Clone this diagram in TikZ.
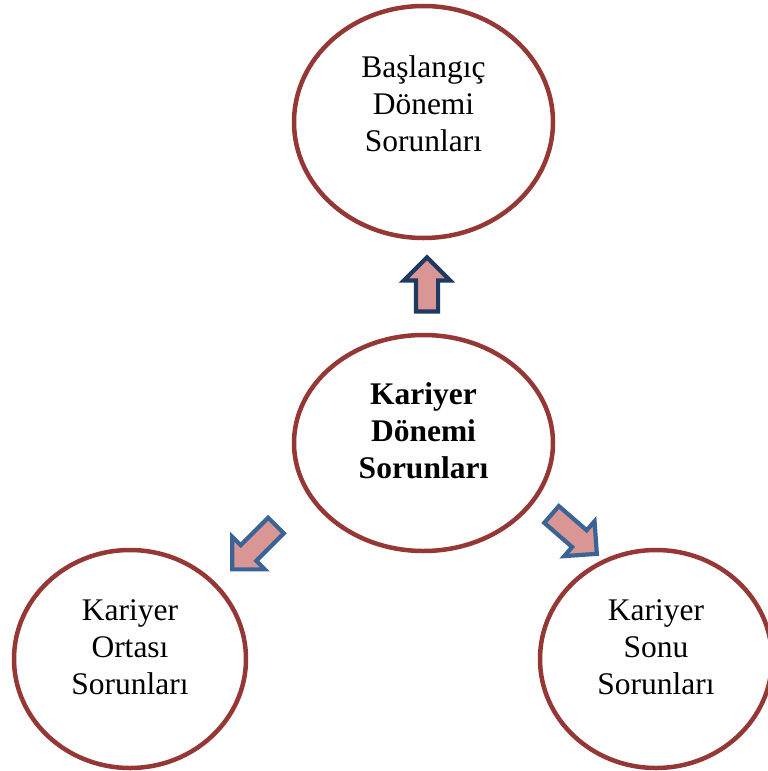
\documentclass[tikz,border=0pt]{standalone}
\usepackage{fontspec}
\setmainfont{Liberation Serif}
\usetikzlibrary{shapes.geometric,shapes.arrows}
\definecolor{Rim}{HTML}{953735}
\definecolor{Rose}{HTML}{D99694}
\definecolor{Navy}{HTML}{1F3A60}
\definecolor{Steel}{HTML}{3B6496}
\newcommand\bubblefont{\fontsize{31.5}{37}\selectfont}

\begin{document}
\begin{tikzpicture}[
  x=1pt,
  y=-1pt,
  bubble/.style={ellipse,draw=Rim,line width=4.5pt,inner sep=0pt},
  words/.style={align=center,font=\bubblefont},
  push/.style={single arrow,draw=Steel,fill=Rose,line width=4.2pt,
    inner xsep=0pt,inner ysep=9pt,single arrow head extend=12pt,
    minimum width=42pt}]
\useasboundingbox (0,0) rectangle (768,771);
\draw
  (423.5,122) node[bubble,minimum width=259pt,minimum height=232pt] (start) {}
  (423.5,443) node[bubble,minimum width=259pt,minimum height=216pt] (career) {}
  (130,659) node[bubble,minimum width=232pt,minimum height=218pt] (middle) {}
  (656,659) node[bubble,minimum width=232pt,minimum height=218pt] (end) {}
  ;
\draw
  ([yshift=18pt]start.center) node[words] {Başlangıç\\Dönemi\\Sorunları}
  ([yshift=12pt]career.center) node[words,font=\bubblefont\bfseries] {Kariyer\\Dönemi\\Sorunları}
  ([yshift=12pt]middle.center) node[words] {Kariyer\\Ortası\\Sorunları}
  ([yshift=12pt]end.center) node[words] {Kariyer\\Sonu\\Sorunları}
  ;
% arrows from the centre out
\draw
  (427,290) node[push,draw=Navy,minimum height=54pt,rotate=90] (up) {}
  (258,543.5) node[push,minimum height=62pt,rotate=225] (left) {}
  (570,530.5) node[push,minimum height=60pt,rotate=-41] (right) {}
  ;
\end{tikzpicture}
\end{document}
